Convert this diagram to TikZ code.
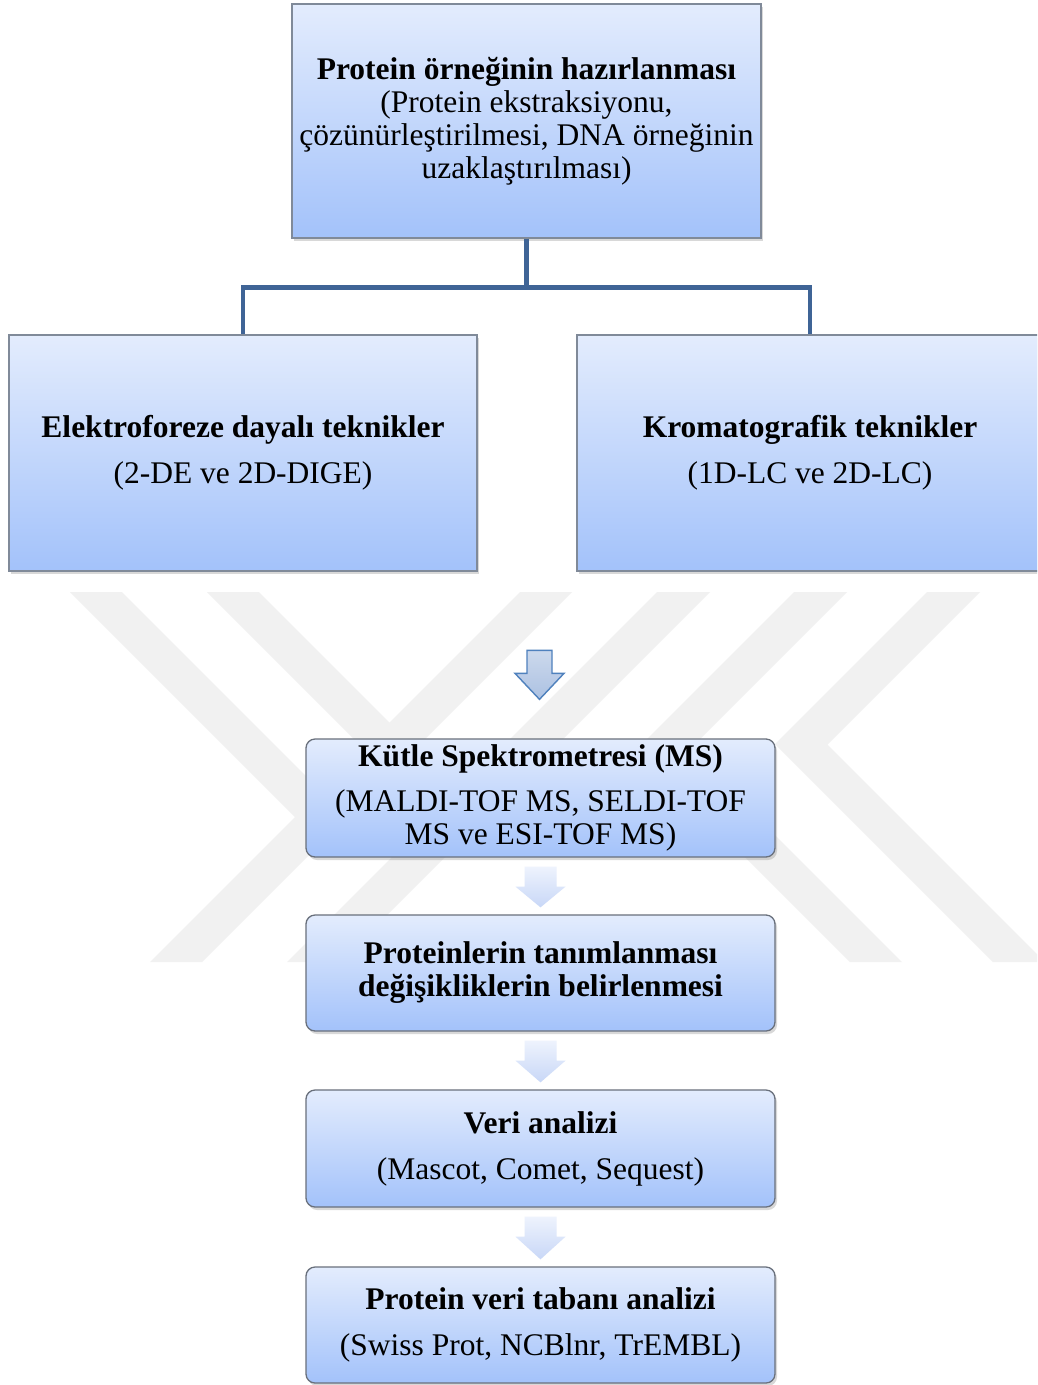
\documentclass[tikz,border=0pt]{standalone}
\usepackage{fontspec}
\setmainfont{Liberation Serif}
\usetikzlibrary{shadows,calc}
\definecolor{boxtop}{RGB}{227,236,253}
\definecolor{boxbot}{RGB}{163,194,250}
\definecolor{boxline}{RGB}{128,138,153}
\definecolor{rboxline}{RGB}{105,112,124}
\definecolor{conncol}{RGB}{63,100,150}
\definecolor{wm}{RGB}{241,241,241}
\definecolor{arrline}{RGB}{79,129,189}
\definecolor{arrtop}{RGB}{204,217,236}
\definecolor{arrbot}{RGB}{172,193,226}
\definecolor{faintop}{RGB}{238,243,253}
\definecolor{fainbot}{RGB}{200,215,247}
\newcommand\flowarr[2]{%
  \shade[top color=faintop,bottom color=fainbot]
    ($(#1.south)+(-16,9)$) -- ($(#1.south)+(16,9)$) -- ($(#1.south)+(16,29)$) --
    ($(#1.south)+(25,29)$) -- ($(#2.north)+(0,-7)$) -- ($(#1.south)+(-25,29)$) --
    ($(#1.south)+(-16,29)$) -- cycle;}
\begin{document}
\begin{tikzpicture}[x=1pt,y=-1pt,
  txt/.style={align=center, inner sep=0pt, font=\fontsize{31.5pt}{33pt}\selectfont},
  sqbox/.style={txt, draw=boxline, line width=1.1pt, top color=boxtop, bottom color=boxbot,
    drop shadow={shadow xshift=2pt, shadow yshift=-3pt, opacity=0.3}},
  rbox/.style={txt, draw=rboxline, line width=1.3pt, rounded corners=9pt, top color=boxtop, bottom color=boxbot,
    minimum width=469pt,
    drop shadow={shadow xshift=2pt, shadow yshift=-3pt, opacity=0.3}},
  conn/.style={draw=conncol, line width=4.5pt},
  bigarrow/.style={draw=arrline, line width=1.4pt, top color=arrtop, bottom color=arrbot, line join=miter}
]
\clip (0,0) rectangle (1037,1385);
\fill[white] (0,0) rectangle (1037,1385);
% watermark
\fill[wm] (70,592) -- (122,592) -- (347,817) -- (295,817) -- cycle;
\fill[wm] (207,592) -- (259,592) -- (415.5,748.5) -- (389.5,774.5) -- cycle;
\fill[wm] (520,592) -- (572,592) -- (202,962) -- (150,962) -- cycle;
\fill[wm] (657,592) -- (710,592) -- (340,962) -- (287,962) -- cycle;
\fill[wm] (794,592) -- (847,592) -- (689.5,749.5) -- (902,962) -- (850,962) -- (637,749) -- cycle;
\fill[wm] (927,592) -- (980,592) -- (827.5,744.5) -- (1045,962) -- (993,962) -- (775,744) -- cycle;

\node[sqbox, minimum width=469pt, minimum height=234pt] (prep) at (526.5,121)
  {\textbf{Protein örneğinin hazırlanması}\\(Protein ekstraksiyonu,\\çözünürleştirilmesi,\ DNA örneğinin\\uzaklaştırılması)};
\node[sqbox, minimum width=468pt, minimum height=236pt] (elek) at (243,453)
  {\textbf{Elektroforeze dayalı teknikler}\\[13pt](2-DE ve 2D-DIGE)};
\node[sqbox, minimum width=466pt, minimum height=236pt] (krom) at (810,453)
  {\textbf{Kromatografik teknikler}\\[13pt](1D-LC ve 2D-LC)};

\path (prep.south) ++(0,49) coordinate (j);
\draw[conn] (prep.south) -- (j);
\draw[conn] (j) -| (elek.north);
\draw[conn] (j) -| (krom.north);

\node[rbox, minimum height=118pt] (ms) at (540.5,798)
  {\textbf{Kütle Spektrometresi (MS)}\\[12pt](MALDI-TOF MS, SELDI-TOF\\MS ve ESI-TOF MS)};
\node[rbox, minimum height=116pt] (tanim) at (540.5,973)
  {\textbf{Proteinlerin tanımlanması}\\\textbf{değişikliklerin belirlenmesi}};
\node[rbox, minimum height=117pt] (veri) at (540.5,1148.5)
  {\textbf{Veri analizi}\\[13pt](Mascot, Comet, Sequest)};
\node[rbox, minimum height=116pt] (db) at (540.5,1325)
  {\textbf{Protein veri tabanı analizi}\\[13pt](Swiss Prot, NCBlnr, TrEMBL)};

% big arrow into MS box
\draw[bigarrow] ($(ms.north)+(-13.5,-88)$) -- ($(ms.north)+(11.5,-88)$) -- ($(ms.north)+(11.5,-65)$) --
  ($(ms.north)+(23.5,-65)$) -- ($(ms.north)+(-1,-39)$) -- ($(ms.north)+(-25.5,-65)$) --
  ($(ms.north)+(-13.5,-65)$) -- cycle;

\flowarr{ms}{tanim}
\flowarr{tanim}{veri}
\flowarr{veri}{db}
\end{tikzpicture}
\end{document}
